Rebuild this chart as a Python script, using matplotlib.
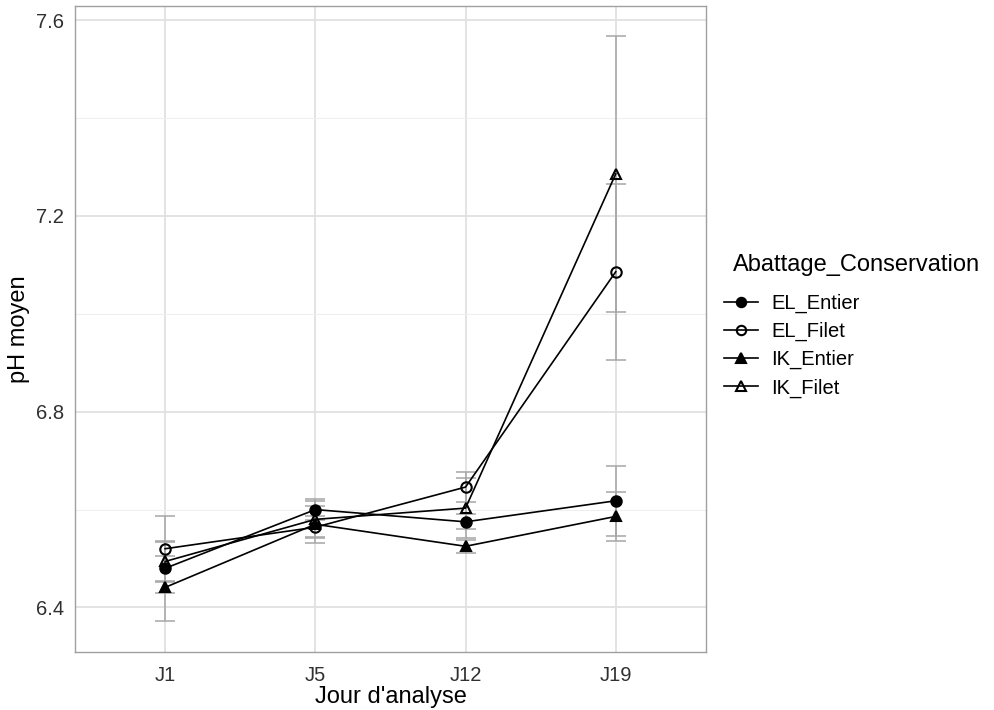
import numpy as np
from matplotlib import pyplot as plt

plt.rcParams['font.family'] = ['Liberation Sans', 'DejaVu Sans']

days = ['J1', 'J5', 'J12', 'J19']
groups = ['EL_Entier', 'EL_Filet', 'IK_Entier', 'IK_Filet']

el_entier = [6.480, 6.600, 6.575, 6.618]
el_entier_se = [0.107, 0.022, 0.015, 0.072]
el_filet = [6.520, 6.564, 6.646, 7.086]
el_filet_se = [0.015, 0.022, 0.031, 0.180]
ik_entier = [6.441, 6.570, 6.525, 6.586]
ik_entier_se = [0.012, 0.038, 0.013, 0.050]
ik_filet = [6.494, 6.580, 6.603, 7.286]
ik_filet_se = [0.040, 0.037, 0.062, 0.282]

means = [el_entier, el_filet, ik_entier, ik_filet]
errs = [el_entier_se, el_filet_se, ik_entier_se, ik_filet_se]
markers = ['o', 'o', '^', '^']
fills = ['black', 'none', 'black', 'none']

fig = plt.figure(figsize=(9.95, 7.1), dpi=100)
ax = fig.add_axes([0.0754, 0.0817, 0.634, 0.9098])
x = np.arange(len(days))

ax.set_xlim(-0.6, len(days) - 0.4)
ax.set_ylim(6.309, 7.629)

# grid
ax.set_yticks([6.4, 6.8, 7.2, 7.6])
ax.set_yticks([6.6, 7.0, 7.4], minor=True)
ax.set_xticks(x)
ax.set_xticklabels(days)
ax.grid(True, which='major', color='#E0E0E0', lw=1.3)
ax.grid(True, which='minor', axis='y', color='#EFEFEF', lw=0.8)
ax.set_axisbelow(True)

for m, e in zip(means, errs):
    ax.errorbar(x, m, yerr=e, fmt='none', ecolor='#A6A6A6', elinewidth=1.1,
                capsize=7, capthick=1.1, zorder=2)

for m, g, mk, fc in zip(means, groups, markers, fills):
    ax.plot(x, m, color='black', lw=1.2, marker=mk, markersize=7.5,
            markerfacecolor=fc, markeredgecolor='black', markeredgewidth=1.5,
            label=g, zorder=3)

for s in ax.spines.values():
    s.set_color('#A0A0A0')
    s.set_linewidth(1.0)
ax.tick_params(which='both', length=0, labelsize=14.5, labelcolor='#303030', pad=8)
ax.tick_params(axis='x', pad=10)

ax.set_xlabel("Jour d'analyse", fontsize=17, labelpad=1)
ax.set_ylabel('pH moyen', fontsize=17, labelpad=4)

fig.text(0.7367, 1 - 265 / 710, 'Abattage_Conservation', fontsize=17,
         ha='left', va='center')
leg = fig.legend(loc='upper left', bbox_to_anchor=(0.709, 0.612), frameon=False,
                 fontsize=14.5, handlelength=1.7, handletextpad=0.65,
                 labelspacing=0.45, markerscale=0.9)

fig.savefig('out.png', dpi=100)
